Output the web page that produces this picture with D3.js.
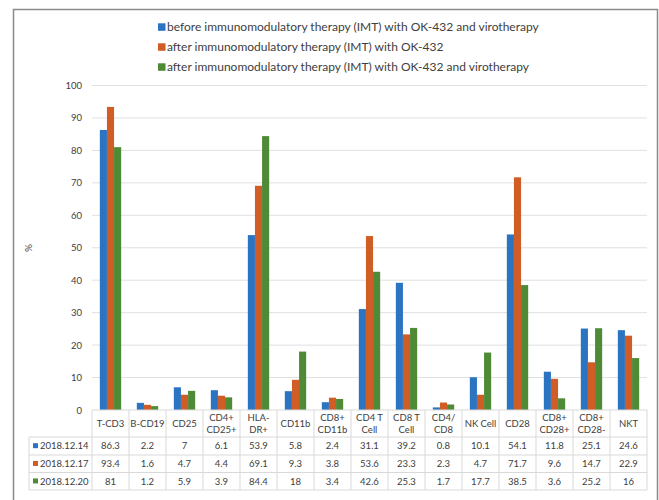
<!DOCTYPE html>
<html>
<head>
<meta charset="utf-8">
<script src="https://cdn.jsdelivr.net/npm/d3@7"></script>
<style>
  html, body { margin: 0; padding: 0; background: #fff; }
  svg { display: block; }
  text { font-family: Lato, "Open Sans", "DejaVu Sans", sans-serif; fill: #404040; }
</style>
</head>
<body>
<svg id="chart" width="659" height="500"></svg>
<script>
// Immune cell subsets (table header labels, line breaks with \n)
const categories = ["T-CD3", "B-CD19", "CD25", "CD4+\nCD25+", "HLA-\nDR+", "CD11b", "CD8+\nCD11b",
  "CD4 T\nCell", "CD8 T\nCell", "CD4/\nCD8", "NK Cell", "CD28", "CD8+\nCD28+", "CD8+\nCD28-", "NKT"];

const seriesDates = ["2018.12.14", "2018.12.17", "2018.12.20"];
const legendLabels = [
  "before immunomodulatory therapy (IMT) with OK-432 and virotherapy",
  "after immunomodulatory therapy (IMT) with OK-432",
  "after immunomodulatory therapy (IMT) with OK-432 and virotherapy"
];

const values1214 = [86.3, 2.2, 7, 6.1, 53.9, 5.8, 2.4, 31.1, 39.2, 0.8, 10.1, 54.1, 11.8, 25.1, 24.6];
const values1217 = [93.4, 1.6, 4.7, 4.4, 69.1, 9.3, 3.8, 53.6, 23.3, 2.3, 4.7, 71.7, 9.6, 14.7, 22.9];
const values1220 = [81, 1.2, 5.9, 3.9, 84.4, 18, 3.4, 42.6, 25.3, 1.7, 17.7, 38.5, 3.6, 25.2, 16];

const yTicks = [0, 10, 20, 30, 40, 50, 60, 70, 80, 90, 100];

const seriesValues = [values1214, values1217, values1220];
const colors = ["#2a74c2", "#d05c26", "#4f8a37"];

const svg = d3.select("#chart");

// outer frame
svg.append("rect")
  .attr("x", 13.5).attr("y", 9.5).attr("width", 644).attr("height", 500)
  .attr("fill", "none").attr("stroke", "#8a8a8a").attr("stroke-width", 1.5);

const plot = { left: 92, right: 647, top: 85.5, bottom: 410 };

const x = d3.scaleBand().domain(d3.range(categories.length))
  .range([plot.left, plot.right]).paddingInner(0).paddingOuter(0);
const xs = d3.scaleBand().domain(d3.range(3))
  .range([0, x.bandwidth()]).paddingOuter(1.1).paddingInner(0);
const y = d3.scaleLinear().domain([0, 100]).range([plot.bottom, plot.top]);

// gridlines
svg.append("g").selectAll("line").data(yTicks.filter(d => d > 0)).join("line")
  .attr("x1", plot.left).attr("x2", plot.right)
  .attr("y1", d => y(d)).attr("y2", d => y(d))
  .attr("stroke", "#e0e0e0").attr("stroke-width", 1);

// y axis labels
const yAxis = d3.axisLeft(y).tickValues(yTicks).tickSize(0).tickPadding(0);
const yg = svg.append("g").attr("transform", `translate(${82},0)`).call(yAxis);
yg.select(".domain").remove();
yg.selectAll("text").attr("font-size", 9.5).attr("fill", "#595959")
  .style("font-family", "Lato, 'Open Sans', sans-serif");

// y axis title
svg.append("text")
  .attr("transform", "translate(32,248) rotate(-90)")
  .attr("text-anchor", "middle").attr("font-size", 10).attr("fill", "#404040")
  .text("%");

// bars
seriesValues.forEach((vals, s) => {
  svg.append("g").selectAll("rect").data(vals).join("rect")
    .attr("x", (d, i) => x(i) + xs(s))
    .attr("y", d => y(d))
    .attr("width", xs.bandwidth())
    .attr("height", d => y(0) - y(d))
    .attr("fill", colors[s]);
});

// legend
const lg = svg.append("g");
legendLabels.forEach((t, s) => {
  const ly = 27 + s * 20;
  lg.append("rect").attr("x", 158).attr("y", ly - 3.7).attr("width", 7.5).attr("height", 7.5).attr("fill", colors[s]);
  lg.append("text").attr("x", 167).attr("y", ly).attr("dy", "0.35em")
    .attr("font-size", 12).attr("fill", "#404040").text(t);
});

// data table
const tableLeft = 29;
const rowY = [410, 437, 455, 472.5, 490];
const gridColor = "#d9d9d9";
const tg = svg.append("g");

// horizontal rules
tg.append("line").attr("x1", plot.left).attr("x2", plot.right).attr("y1", rowY[0]).attr("y2", rowY[0])
  .attr("stroke", gridColor);
rowY.slice(1).forEach(yy => {
  tg.append("line").attr("x1", tableLeft).attr("x2", plot.right).attr("y1", yy).attr("y2", yy)
    .attr("stroke", gridColor);
});
// vertical rules
d3.range(categories.length + 1).forEach(i => {
  const xx = i < categories.length ? x(i) : plot.right;
  tg.append("line").attr("x1", xx).attr("x2", xx).attr("y1", rowY[0]).attr("y2", rowY[4])
    .attr("stroke", gridColor);
});
tg.append("line").attr("x1", tableLeft).attr("x2", tableLeft).attr("y1", rowY[1]).attr("y2", rowY[4])
  .attr("stroke", gridColor);

// header labels
categories.forEach((c, i) => {
  const lines = c.split("\n");
  const cx = x(i) + x.bandwidth() / 2;
  const cy = (rowY[0] + rowY[1]) / 2;
  const t = tg.append("text").attr("x", cx).attr("text-anchor", "middle").attr("font-size", 9.5);
  lines.forEach((l, k) => {
    t.append("tspan").attr("x", cx)
      .attr("y", cy + (k - (lines.length - 1) / 2) * 12.4)
      .attr("dy", "0.35em").text(l);
  });
});

// series rows
seriesValues.forEach((vals, s) => {
  const cy = (rowY[s + 1] + rowY[s + 2]) / 2;
  tg.append("rect").attr("x", 33).attr("y", cy - 2.8).attr("width", 5).attr("height", 5).attr("fill", colors[s]);
  tg.append("text").attr("x", 40).attr("y", cy).attr("dy", "0.35em")
    .attr("font-size", 9.5).text(seriesDates[s]);
  vals.forEach((v, i) => {
    tg.append("text").attr("x", x(i) + x.bandwidth() / 2).attr("y", cy).attr("dy", "0.35em")
      .attr("text-anchor", "middle").attr("font-size", 9.5).text(v);
  });
});
</script>
</body>
</html>
